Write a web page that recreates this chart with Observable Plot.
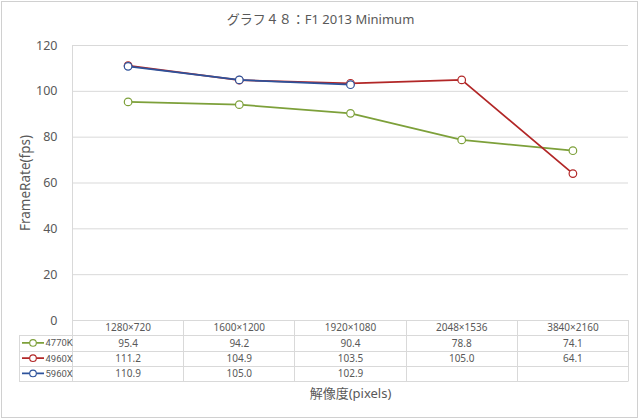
<!DOCTYPE html>
<html><head><meta charset="utf-8">
<script src="https://cdn.jsdelivr.net/npm/d3@7"></script>
<script src="https://cdn.jsdelivr.net/npm/@observablehq/plot@0.6"></script>
<style>
html,body{margin:0;padding:0;background:#fff;}
#chart{position:relative;width:640px;height:419px;overflow:hidden;}
#chart svg{display:block;overflow:visible;}
#frame{position:absolute;left:1px;top:1px;width:637px;height:417px;border:1px solid #d0d0d0;box-sizing:border-box;pointer-events:none;}
</style></head>
<body><div id="chart"><div id="frame"></div></div>
<script>
// ---- data ----
const title = "グラフ４８：F1 2013 Minimum";
const resolutions = ["1280×720", "1600×1200", "1920×1080", "2048×1536", "3840×2160"];
const seriesNames = ["4770K", "4960X", "5960X"];
const seriesColors = ["#7DA03A", "#B22727", "#2D529B"];
const values4770K = [95.4, 94.2, 90.4, 78.8, 74.1];
const values4960X = [111.2, 104.9, 103.5, 105.0, 64.1];
const values5960X = [110.9, 105.0, 102.9, null, null];
const yTicks = [0, 20, 40, 60, 80, 100, 120];
const yLabel = "FrameRate(fps)";
const xLabel = "解像度(pixels)";

// ---- layout constants ----
const GRID = "#d9d9d9";
const TEXT = "#595959";
const ROW_H = 15.25;
const LEGEND_LEFT = 19;
const FONT = "'Noto Sans', 'Noto Sans CJK JP', sans-serif";
const NARROW = "Roboto, 'Noto Sans', sans-serif";

const seriesValues = [values4770K, values4960X, values5960X];
const points = seriesNames.flatMap((name, s) =>
  seriesValues[s].map((v, i) => ({series: name, s, col: i, res: resolutions[i], v}))
    .filter(d => d.v != null));

const crisp = v => Math.round(v) + 0.5;

function tableLines(index, scales, values, dims) {
  const {x, y} = scales;
  const g = d3.create("svg:g").attr("fill", "none");
  const lines = g.append("g").attr("stroke", GRID).attr("stroke-width", 1);
  const top = y(0);
  const nRows = seriesNames.length + 1;
  const bottom = top + ROW_H * nRows;
  const right = x(resolutions.length);
  const hl = (x1, x2, yy) => lines.append("line")
    .attr("x1", x1).attr("x2", x2).attr("y1", crisp(yy)).attr("y2", crisp(yy));
  const vl = (xx, y1, y2) => lines.append("line")
    .attr("x1", crisp(xx)).attr("x2", crisp(xx)).attr("y1", y1).attr("y2", y2);
  hl(x(0), right, top);
  for (let r = 1; r <= nRows; r++) hl(LEGEND_LEFT, right, top + r * ROW_H);
  for (let c = 0; c <= resolutions.length; c++) vl(x(c), c === 0 ? y(yTicks[yTicks.length - 1]) : top, crisp(bottom));
  vl(LEGEND_LEFT, crisp(top + ROW_H), crisp(bottom));
  // legend swatches
  seriesNames.forEach((name, s) => {
    const cy = top + ROW_H * (s + 1) + ROW_H / 2;
    g.append("line").attr("x1", 22).attr("x2", 44).attr("y1", cy).attr("y2", cy)
      .attr("stroke", seriesColors[s]).attr("stroke-width", 1.75);
    g.append("circle").attr("cx", 33).attr("cy", cy).attr("r", 3.3)
      .attr("fill", "#fff").attr("stroke", seriesColors[s]).attr("stroke-width", 1.1);
  });
  return g.node();
}

const mid = {lineAnchor: "middle", fill: TEXT};
const marks = [
  Plot.gridY(yTicks.filter(t => t > 0), {stroke: GRID, strokeOpacity: 1, strokeWidth: 1}),
  tableLines,
  Plot.axisY(yTicks, {tickSize: 0, tickPadding: 15, fontSize: 12.5, fill: TEXT, label: null}),
  Plot.text([yLabel], {...mid, frameAnchor: "left", textAnchor: "middle", dx: -47, rotate: -90, fontSize: 13.5}),
  Plot.text([title], {...mid, frameAnchor: "top", dx: -30, dy: -25.5, fontSize: 13}),
  Plot.text([xLabel], {...mid, frameAnchor: "bottom", dy: 73, fontSize: 13}),
  Plot.text(resolutions, {...mid, x: (d, i) => i + 0.5, frameAnchor: "bottom", dy: ROW_H / 2, fontSize: 10}),
];
seriesNames.forEach((name, s) => {
  const pts = points.filter(d => d.s === s);
  marks.push(Plot.line(pts, {x: d => d.col + 0.5, y: "v", stroke: seriesColors[s], strokeWidth: 1.75}));
  marks.push(Plot.dot(pts, {x: d => d.col + 0.5, y: "v", r: 3.8, fill: "#fff", stroke: seriesColors[s], strokeWidth: 1.2}));
});
seriesNames.forEach((name, s) => {
  const pts = points.filter(d => d.s === s);
  const dy = ROW_H * (s + 1) + ROW_H / 2;
  marks.push(Plot.text(pts, {...mid, x: d => d.col + 0.5, frameAnchor: "bottom", dy, text: d => d.v.toFixed(1), fontSize: 10}));
  marks.push(Plot.text([name], {...mid, frameAnchor: "bottom-left", dx: -27, dy, textAnchor: "start", fontSize: 9.5, fontFamily: NARROW}));
});

const chart = Plot.plot({
  width: 640,
  height: 419,
  marginLeft: 72,
  marginRight: 12,
  marginTop: 45,
  marginBottom: 99,
  x: {domain: [0, resolutions.length], axis: null},
  y: {domain: [0, 120], axis: null},
  style: {fontFamily: FONT, background: "transparent", color: TEXT, overflow: "visible"},
  marks
});
document.getElementById("chart").prepend(chart);
</script>
</body></html>
